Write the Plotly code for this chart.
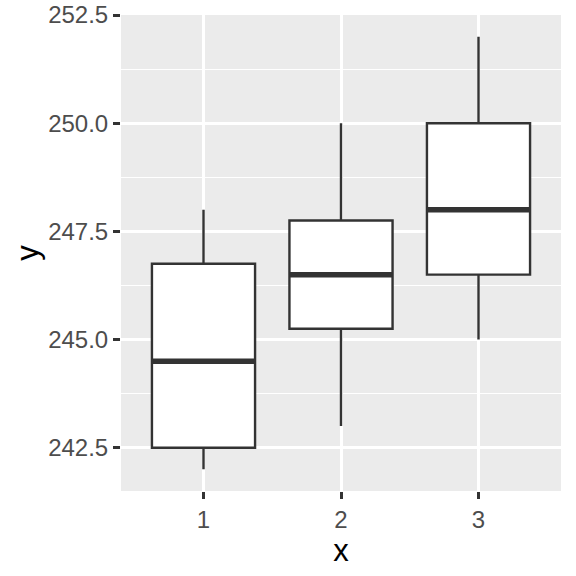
import plotly.graph_objects as go

categories = [1, 2, 3]
lower_whisker = [242.0, 243.0, 245.0]
q1_vals = [242.5, 245.25, 246.5]
medians = [244.5, 246.5, 248.0]
q3_vals = [246.75, 247.75, 250.0]
upper_whisker = [248.0, 250.0, 252.0]
y_ticks = [242.5, 245.0, 247.5, 250.0, 252.5]

BOX_W = 0.75
DARK = "#333333"

fig = go.Figure()
for i, c in enumerate(categories):
    fig.add_trace(go.Box(
        x=[c], q1=[q1_vals[i]], median=[medians[i]], q3=[q3_vals[i]],
        lowerfence=[lower_whisker[i]], upperfence=[upper_whisker[i]],
        width=BOX_W, whiskerwidth=0, fillcolor="white",
        line=dict(color=DARK, width=2.4), boxpoints=False,
        showlegend=False, hoverinfo="skip",
    ))

mx, my = [], []
for c, m in zip(categories, medians):
    mx += [c - BOX_W / 2, c + BOX_W / 2, None]
    my += [m, m, None]
fig.add_trace(go.Scatter(x=mx, y=my, mode="lines",
                         line=dict(color=DARK, width=5.5),
                         showlegend=False, hoverinfo="skip"))

fig.update_layout(
    width=576, height=576,
    margin=dict(l=121, r=15, t=15, b=85),
    paper_bgcolor="white", plot_bgcolor="#EBEBEB",
    font=dict(family="Liberation Sans, Arial, sans-serif", color="#4D4D4D", size=24),
)
fig.update_xaxes(
    automargin=False,
    range=[0.4, 3.6], tickvals=categories, ticktext=[str(c) for c in categories],
    showgrid=True, gridcolor="white", gridwidth=2.7, zeroline=False,
    ticks="outside", ticklen=7, tickwidth=2.7, tickcolor=DARK,
    title=dict(text="x", font=dict(size=31, color="black"), standoff=2),
    tickfont=dict(size=24, color="#4D4D4D"),
)
fig.update_yaxes(
    automargin=False,
    range=[241.5, 252.5], tickvals=y_ticks, tickformat=".1f",
    showgrid=True, gridcolor="white", gridwidth=2.7, zeroline=False,
    minor=dict(tickvals=[243.75, 246.25, 248.75, 251.25], showgrid=True,
               gridcolor="white", gridwidth=1.4, ticks=""),
    ticks="outside", ticklen=7, tickwidth=2.7, tickcolor=DARK,
    title=dict(text="y", font=dict(size=31, color="black"), standoff=0),
    tickfont=dict(size=24, color="#4D4D4D"),
)

fig.write_html("out.html", config={"displayModeBar": False},
               post_script="document.body.style.margin='0';")
